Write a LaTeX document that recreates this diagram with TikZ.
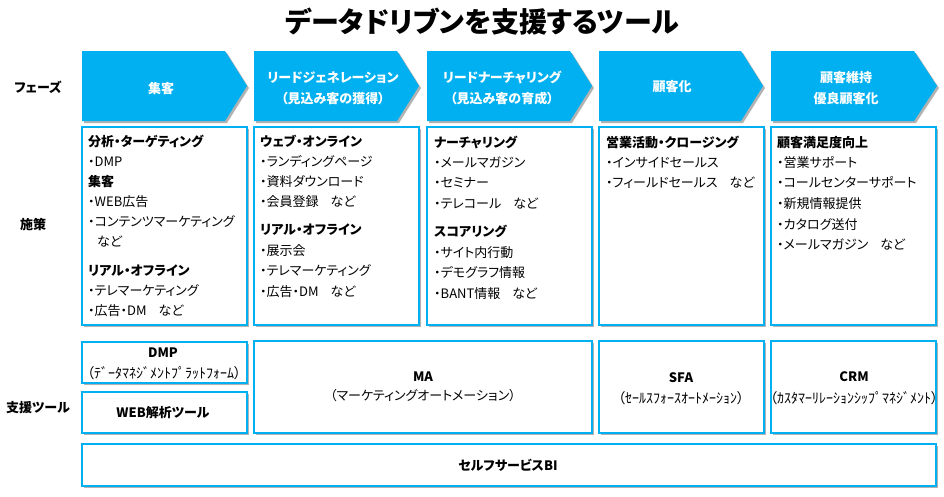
\documentclass[tikz,border=0pt]{standalone}
\usepackage{fontspec}
\setmainfont{Noto Sans CJK JP}[RawFeature=+palt]
\usetikzlibrary{shadows}
\definecolor{cy}{HTML}{00B0F0}
\newcommand\bodyfont{\fontsize{13}{15}\selectfont}
\newcommand\mylines[3]{%
  \foreach \yy/\txt [count=\i] in {#3} {\node[ln] (#1\i) at (#2,\yy) {\txt};}}
\begin{document}
\begin{tikzpicture}[x=1pt,y=-1pt,
  shd/.style={drop shadow={shadow xshift=2pt,shadow yshift=-2pt,opacity=0.3,fill=black}},
  bx/.style={draw=cy,line width=2pt,fill=white,shd,inner sep=0pt},
  ph/.style={fill=cy,shd},
  ln/.style={anchor=west,inner sep=0pt,font=\bodyfont,text height=11.4pt,text depth=1.6pt},
  pht/.style={text=white,font=\fontsize{13}{21}\selectfont\bfseries,align=center,inner sep=0pt},
  lab/.style={font=\fontsize{13}{15}\selectfont\bfseries,inner sep=0pt},
  tname/.style={font=\fontsize{13}{15}\selectfont\bfseries,inner sep=0pt},
  tsub/.style={font=\fontsize{13}{15}\selectfont,inner sep=0pt},
  hsub/.style={font=\fontsize{14}{15}\selectfont,inner sep=0pt}]
\useasboundingbox (0,0) rectangle (944,496);

% title
\node[font=\fontsize{28}{32}\selectfont\bfseries,inner sep=0pt] (title) at (482,22) {データドリブンを支援するツール};

% left labels
\node[lab] (lphase) at (38,87) {フェーズ};
\node[lab] (lmeas) at (33,225) {施策};
\node[lab] (ltool) at (38,408) {支援ツール};

% phase arrows
\fill[ph] (82,51) -- (225,51) -- (247,86) -- (225,121) -- (82,121) -- cycle;
\fill[ph] (254,51) -- (397,51) -- (419,86) -- (397,121) -- (254,121) -- cycle;
\fill[ph] (427,51) -- (570,51) -- (592,86) -- (570,121) -- (427,121) -- cycle;
\fill[ph] (599,51) -- (741,51) -- (763,86) -- (741,121) -- (599,121) -- cycle;
\fill[ph] (771,51) -- (914,51) -- (937,86) -- (914,121) -- (771,121) -- cycle;
\node[pht] (p1) at (161,89) {集客};
\node[pht] (p2) at (333,88.5) {リードジェネレーション\\（見込み客の獲得）};
\node[pht] (p3) at (502,88.5) {リードナーチャリング\\（見込み客の育成）};
\node[pht] (p4) at (672,87) {顧客化};
\node[pht] (p5) at (846,88.5) {顧客維持\\優良顧客化};

% measure boxes
\node[bx,minimum width=165pt,minimum height=198pt] (s1) at (164.5,226) {};
\node[bx,minimum width=165pt,minimum height=198pt] (s2) at (336.5,226) {};
\node[bx,minimum width=165pt,minimum height=198pt] (s3) at (509.5,226) {};
\node[bx,minimum width=165pt,minimum height=198pt] (s4) at (681.5,226) {};
\node[bx,minimum width=165pt,minimum height=198pt] (s5) at (853.5,226) {};

\mylines{a}{88}{141.7/\textbf{分析・ターゲティング}, 161.7/・DMP, 181.7/\textbf{集客}, 202/・WEB広告, 221.7/・コンテンツマーケティング, 241.7/\hspace*{9pt}など, 270.7/\textbf{リアル・オフライン}, 290.5/・テレマーケティング, 310.7/・広告・DM\hspace{12pt}など}
\mylines{b}{260}{141.7/\textbf{ウェブ・オンライン}, 161.7/・ランディングページ, 181.7/・資料ダウンロード, 201.7/・会員登録\hspace{12pt}など, 230/\textbf{リアル・オフライン}, 251/・展示会, 270.5/・テレマーケティング, 291.2/・広告・DM\hspace{12pt}など}
\mylines{c}{434}{143/\textbf{ナーチャリング}, 163/・メールマガジン, 183/・セミナー, 204/・テレコール\hspace{12pt}など, 231.5/\textbf{スコアリング}, 253/・サイト内行動, 273/・デモグラフ情報, 293.5/・BANT情報\hspace{12pt}など}
\mylines{d}{606}{143/\textbf{営業活動・クロージング}, 163/・インサイドセールス, 183/・フィールドセールス\hspace{12pt}など}
\mylines{e}{777}{143/\textbf{顧客満足度向上}, 163/・営業サポート, 183/・コールセンターサポート, 204/・新規情報提供, 224.5/・カタログ送付, 244.5/・メールマガジン\hspace{12pt}など}

% tool boxes
\node[bx,minimum width=165pt,minimum height=41pt] (dmp) at (164.5,362.5) {};
\node[bx,minimum width=165pt,minimum height=41pt] (web) at (164.5,412.5) {};
\node[bx,minimum width=338pt,minimum height=92pt] (ma) at (423,387) {};
\node[bx,minimum width=165pt,minimum height=92pt] (sfa) at (681.5,387) {};
\node[bx,minimum width=165pt,minimum height=92pt] (crm) at (853.5,387) {};
\node[bx,minimum width=854pt,minimum height=42pt] (bi) at (509,465) {};

\node[tname] (dmpn) at (163,353) {DMP};
\node[hsub] (dmps) at (164,373) {（ﾃﾞｰﾀﾏﾈｼﾞﾒﾝﾄﾌﾟﾗｯﾄﾌｫｰﾑ）};
\node[tname] (webn) at (163,413) {WEB解析ツール};
\node[tname] (man) at (423,377) {MA};
\node[tsub] (mas) at (423,396) {（マーケティングオートメーション）};
\node[tname] (sfan) at (681,378) {SFA};
\node[hsub] (sfas) at (681,398) {（ｾｰﾙｽﾌｫｰｽｵｰﾄﾒｰｼｮﾝ）};
\node[tname] (crmn) at (854,377) {CRM};
\node[hsub] (crms) at (854,398) {（ｶｽﾀﾏｰﾘﾚｰｼｮﾝｼｯﾌﾟﾏﾈｼﾞﾒﾝﾄ）};
\node[tname] (bin) at (508,465) {セルフサービスBI};
\end{tikzpicture}
\end{document}
